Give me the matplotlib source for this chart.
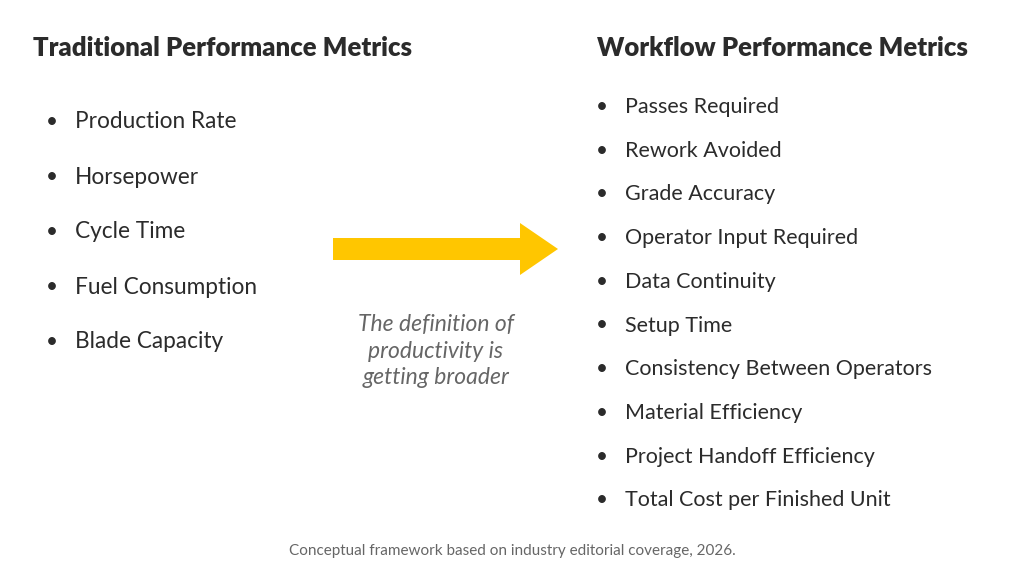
import matplotlib
matplotlib.use("Agg")
import matplotlib.pyplot as plt
from matplotlib.patches import FancyArrow

left_title = "Traditional Performance Metrics"
right_title = "Workflow Performance Metrics"
left_items = ["Production Rate", "Horsepower", "Cycle Time", "Fuel Consumption", "Blade Capacity"]
right_items = ["Passes Required", "Rework Avoided", "Grade Accuracy", "Operator Input Required",
               "Data Continuity", "Setup Time", "Consistency Between Operators",
               "Material Efficiency", "Project Handoff Efficiency", "Total Cost per Finished Unit"]
middle_text = "The definition of\nproductivity is\ngetting broader"
footer = "Conceptual framework based on industry editorial coverage, 2026."

W, H = 1024, 576
fig = plt.figure(figsize=(W/100, H/100), dpi=100)
ax = fig.add_axes([0, 0, 1, 1])
ax.set_xlim(0, W); ax.set_ylim(H, 0); ax.axis("off")
fam = ["Lato", "DejaVu Sans"]
dark = "#2b2b2b"

ax.text(33, 48, left_title, fontsize=18.5, fontweight="heavy", color=dark, va="center", family=fam)
ax.text(597, 48, right_title, fontsize=18.5, fontweight="heavy", color=dark, va="center", family=fam)

for i, t in enumerate(left_items):
    y = 122 + i * 55
    ax.text(52, y, "•", fontsize=15, color=dark, va="center", ha="center", family=fam)
    ax.text(75, y, t, fontsize=16.3, color=dark, va="center", family=fam)

for i, t in enumerate(right_items):
    y = 107 + i * 43.7
    ax.text(602, y, "•", fontsize=15, color=dark, va="center", ha="center", family=fam)
    ax.text(625, y, t, fontsize=15.5, color=dark, va="center", family=fam)

ax.add_patch(FancyArrow(333, 249, 187, 0, width=22, head_width=52, head_length=38,
                        length_includes_head=False, color="#FFC600", lw=0))
ax.text(436, 351, middle_text, fontsize=16.5, style="italic", color="#666666",
        ha="center", va="center", linespacing=1.3, family=fam)
ax.text(512, 551, footer, fontsize=11, color="#666666", ha="center", va="center", family=fam)

fig.savefig("out.png", dpi=100, facecolor="white")
